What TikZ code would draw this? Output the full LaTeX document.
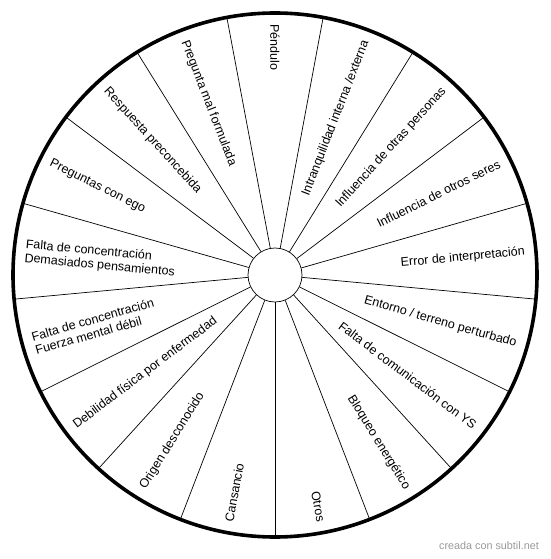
\documentclass[tikz,border=0pt]{standalone}
\usepackage{fontspec}
\setmainfont{Liberation Sans}
\usetikzlibrary{calc}

\begin{document}
\begin{tikzpicture}[x=1pt,y=1pt,
  lbl/.style={font=\fontsize{12.5}{14}\selectfont, inner sep=0pt, align=left},
  spoke/.style={line width=0.7pt}]

% Parameters
\def\R{262}
\def\r{27}
\def\t{251}
\def\d{21.17647}

\useasboundingbox (-275,-284) rectangle (275,275);

% Hub
\node[circle, draw, line width=0.7pt, minimum size=54pt, inner sep=0pt] (hub) at (0,0) {};

% Spokes
\foreach \k [evaluate=\k as \a using -90+\k*\d] in {0,...,16}
  \draw[spoke] (hub.\a) -- (\a:\R);

% Rim
\draw[line width=3.6pt] (0,0) circle (\R);

% Labels, left half
\node[lbl, anchor=west, rotate=-90] (pendulo) at (90:\t) {Péndulo};
\node[lbl, anchor=west, rotate=-68.82] (malform) at (111.18:\t) {Pregunta mal formulada};
\node[lbl, anchor=west, rotate=-47.65] (preconc) at (132.35:\t) {Respuesta preconcebida};
\node[lbl, anchor=west, rotate=-26.47] (ego) at (153.53:\t) {Preguntas con ego};
\node[lbl, anchor=west, rotate=-5.29] (demasiados) at (174.71:\t) {Falta de concentración\\Demasiados pensamientos};
\node[lbl, anchor=west, rotate=15.88] (debil) at (195.88:\t) {Falta de concentración\\Fuerza mental débil};
\node[lbl, anchor=west, rotate=37.06] (enfermedad) at (217.06:\t) {Debilidad física por enfermedad};
\node[lbl, anchor=west, rotate=58.24] (desconocido) at (238.24:\t) {Origen desconocido};
\node[lbl, anchor=west, rotate=79.41] (cansancio) at (259.41:\t) {Cansancio};

% Labels, right half
\node[lbl, anchor=east, rotate=-79.41] (otros) at (-79.41:\t) {Otros};
\node[lbl, anchor=east, rotate=-58.24] (bloqueo) at (-58.24:\t) {Bloqueo energético};
\node[lbl, anchor=east, rotate=-37.06] (comunic) at (-37.06:\t) {Falta de comunicación con YS};
\node[lbl, anchor=east, rotate=-15.88] (entorno) at (-15.88:\t) {Entorno / terreno perturbado};
\node[lbl, anchor=east, rotate=5.29] (error) at (5.29:\t) {Error de interpretación};
\node[lbl, anchor=east, rotate=26.47] (seres) at (26.47:\t) {Influencia de otros seres};
\node[lbl, anchor=east, rotate=47.65] (personas) at (47.65:\t) {Influencia de otras personas};
\node[lbl, anchor=east, rotate=68.82] (intranq) at (68.82:\t) {Intranquilidad interna /externa};

% Credit
\node[font=\fontsize{10.8}{12}\selectfont, text=black!40, inner sep=0pt, anchor=east] (credit) at (264,-271) {creada con subtil.net};

\end{tikzpicture}
\end{document}
